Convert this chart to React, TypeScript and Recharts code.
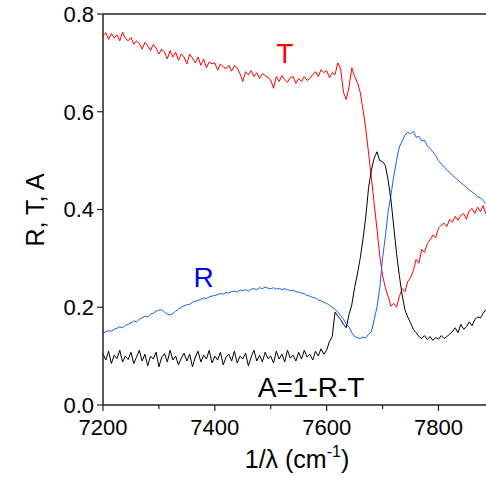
import { LineChart, Line, XAxis, YAxis, ReferenceLine, ReferenceDot, Label } from "recharts"

// wavenumber grid, cm^-1
const startWavenumber = 7200
const stepWavenumber = 5

// T, one row per 50 cm^-1
const transmittance = [
  0.755, 0.762, 0.748, 0.760, 0.751, 0.757, 0.745, 0.763, 0.750, 0.745,
  0.752, 0.738, 0.745, 0.740, 0.728, 0.742, 0.735, 0.725, 0.738, 0.730,
  0.718, 0.728, 0.722, 0.708, 0.725, 0.712, 0.722, 0.705, 0.718, 0.712,
  0.698, 0.718, 0.710, 0.700, 0.712, 0.695, 0.708, 0.690, 0.702, 0.698,
  0.700, 0.685, 0.698, 0.692, 0.688, 0.695, 0.683, 0.694, 0.690, 0.678,
  0.662, 0.682, 0.675, 0.684, 0.672, 0.680, 0.668, 0.678, 0.674, 0.670,
  0.665, 0.648, 0.672, 0.662, 0.674, 0.666, 0.660, 0.670, 0.672, 0.658,
  0.668, 0.662, 0.672, 0.664, 0.668, 0.676, 0.682, 0.672, 0.686, 0.680,
  0.684, 0.670, 0.680, 0.676, 0.700, 0.688, 0.640, 0.625, 0.650, 0.690,
  0.672, 0.660, 0.640, 0.605, 0.565, 0.515, 0.465, 0.412, 0.360, 0.305,
  0.265, 0.240, 0.222, 0.202, 0.208, 0.200, 0.222, 0.238, 0.232, 0.252,
  0.260, 0.275, 0.298, 0.290, 0.318, 0.312, 0.330, 0.338, 0.348, 0.342,
  0.362, 0.368, 0.372, 0.365, 0.380, 0.374, 0.386, 0.378, 0.388, 0.392,
  0.380, 0.398, 0.402, 0.392, 0.405, 0.395, 0.408, 0.390,
]

// R
const reflectance = [
  0.147, 0.150, 0.152, 0.151, 0.155, 0.157, 0.160, 0.158, 0.163, 0.165,
  0.168, 0.172, 0.170, 0.176, 0.178, 0.182, 0.180, 0.186, 0.188, 0.192,
  0.194, 0.195, 0.190, 0.186, 0.184, 0.187, 0.192, 0.196, 0.200, 0.203,
  0.205, 0.206, 0.210, 0.212, 0.214, 0.216, 0.219, 0.218, 0.221, 0.223,
  0.224, 0.226, 0.228, 0.227, 0.230, 0.229, 0.232, 0.233, 0.231, 0.235,
  0.234, 0.236, 0.233, 0.237, 0.238, 0.236, 0.240, 0.238, 0.241, 0.239,
  0.238, 0.240, 0.237, 0.239, 0.236, 0.238, 0.236, 0.234, 0.235, 0.232,
  0.231, 0.229, 0.228, 0.224, 0.223, 0.220, 0.219, 0.215, 0.213, 0.210,
  0.208, 0.204, 0.200, 0.196, 0.190, 0.183, 0.176, 0.165, 0.160, 0.148,
  0.140, 0.138, 0.136, 0.139, 0.137, 0.145, 0.150, 0.175, 0.200, 0.240,
  0.300, 0.345, 0.395, 0.430, 0.468, 0.500, 0.528, 0.540, 0.552, 0.558,
  0.555, 0.560, 0.548, 0.550, 0.540, 0.542, 0.530, 0.525, 0.518, 0.510,
  0.500, 0.493, 0.488, 0.480, 0.476, 0.470, 0.465, 0.460, 0.455, 0.450,
  0.446, 0.440, 0.436, 0.432, 0.426, 0.424, 0.418, 0.412,
]

// A = 1 - R - T
const absorbance = [
  0.105, 0.092, 0.110, 0.085, 0.102, 0.095, 0.112, 0.088, 0.100, 0.093,
  0.108, 0.085, 0.098, 0.112, 0.090, 0.104, 0.080, 0.100, 0.094, 0.108,
  0.078, 0.098, 0.105, 0.088, 0.112, 0.092, 0.100, 0.082, 0.096, 0.106,
  0.090, 0.104, 0.078, 0.098, 0.110, 0.088, 0.102, 0.094, 0.112, 0.086,
  0.100, 0.092, 0.108, 0.082, 0.098, 0.104, 0.090, 0.110, 0.086, 0.100,
  0.094, 0.106, 0.080, 0.098, 0.112, 0.090, 0.102, 0.088, 0.108, 0.095,
  0.100, 0.086, 0.110, 0.094, 0.104, 0.088, 0.112, 0.096, 0.102, 0.090,
  0.108, 0.094, 0.112, 0.098, 0.104, 0.092, 0.110, 0.100, 0.115, 0.104,
  0.112, 0.130, 0.140, 0.190, 0.182, 0.175, 0.165, 0.158, 0.185, 0.205,
  0.240, 0.268, 0.300, 0.340, 0.385, 0.445, 0.480, 0.505, 0.518, 0.500,
  0.498, 0.490, 0.460, 0.420, 0.365, 0.310, 0.265, 0.225, 0.195, 0.180,
  0.168, 0.155, 0.148, 0.140, 0.136, 0.142, 0.134, 0.140, 0.132, 0.138,
  0.135, 0.142, 0.136, 0.140, 0.145, 0.150, 0.158, 0.148, 0.165, 0.155,
  0.160, 0.170, 0.162, 0.175, 0.180, 0.178, 0.188, 0.195,
]

const xTicks = [7200, 7300, 7400, 7500, 7600, 7700, 7800]
const xMajor = [7200, 7400, 7600, 7800]
const yTicks = [0, 0.2, 0.4, 0.6, 0.8]

const data = transmittance.map((t, i) => ({
  x: startWavenumber + i * stepWavenumber,
  T: t,
  R: reflectance[i],
  A: absorbance[i],
}))

const font = "'Liberation Sans', Arial, sans-serif"

const XTick = (props: any) => {
  const { x, y, payload } = props
  const major = xMajor.includes(payload.value)
  const axisY = y - 14
  return (
    <g>
      <line x1={x} x2={x} y1={axisY} y2={axisY + (major ? 6 : 4)} stroke="#222" strokeWidth={1.2} />
      {major && (
        <text x={x} y={y} dy="0.71em" textAnchor="middle" fontSize={22} fill="#000" fontFamily={font}>
          {payload.value}
        </text>
      )}
    </g>
  )
}

export default function App() {
  return (
    <div style={{ position: "absolute", left: 0, top: 0, background: "#fff" }}>
      <LineChart
        width={486}
        height={479}
        data={data}
        margin={{ top: 14, right: 0, left: 0, bottom: 0 }}
        style={{ fontFamily: font }}
      >
        <XAxis
          dataKey="x"
          type="number"
          domain={[7200, 7885]}
          ticks={xTicks}
          height={74}
          tickSize={6}
          tickMargin={8}
          tickLine={false}
          tick={<XTick />}
          axisLine={{ stroke: "#222", strokeWidth: 1.5 }}
        >
          <Label
            content={() => (
              <text x={297} y={468} textAnchor="middle" fontSize={25} fill="#000" fontFamily={font}>
                1/λ (cm<tspan dy={-11} fontSize={16}>-1</tspan><tspan dy={11}>)</tspan>
              </text>
            )}
          />
        </XAxis>
        <YAxis
          type="number"
          domain={[0, 0.8]}
          ticks={yTicks}
          width={103}
          tickSize={6}
          tickMargin={3}
          tickFormatter={(v: number) => v.toFixed(1)}
          tick={{ fontSize: 22, fill: "#000", fontFamily: font }}
          tickLine={{ stroke: "#222", strokeWidth: 1.2 }}
          axisLine={{ stroke: "#222", strokeWidth: 1.5 }}
        >
          <Label
            content={() => (
              <text
                x={35}
                y={210}
                transform="rotate(-90 35 210)"
                textAnchor="middle"
                dominantBaseline="central"
                fontSize={25}
                fill="#000"
                fontFamily={font}
              >
                R, T, A
              </text>
            )}
          />
        </YAxis>
        <ReferenceLine y={0.8} stroke="#222" strokeWidth={1.5} />
        <Line type="linear" dataKey="T" stroke="#ff0000" strokeWidth={1} dot={false} isAnimationActive={false} />
        <Line type="linear" dataKey="R" stroke="#1a5cff" strokeWidth={1} dot={false} isAnimationActive={false} />
        <Line type="linear" dataKey="A" stroke="#000" strokeWidth={1} dot={false} isAnimationActive={false} />
        <ReferenceDot x={7525} y={0.72} r={0} label={{ value: "T", position: "center", fill: "#ff0000", fontSize: 28 }} />
        <ReferenceDot x={7380} y={0.261} r={0} label={{ value: "R", position: "center", fill: "#0000ff", fontSize: 28 }} />
        <ReferenceDot x={7572} y={0.036} r={0} label={{ value: "A=1-R-T", position: "center", fill: "#000", fontSize: 28 }} />
      </LineChart>
    </div>
  )
}
